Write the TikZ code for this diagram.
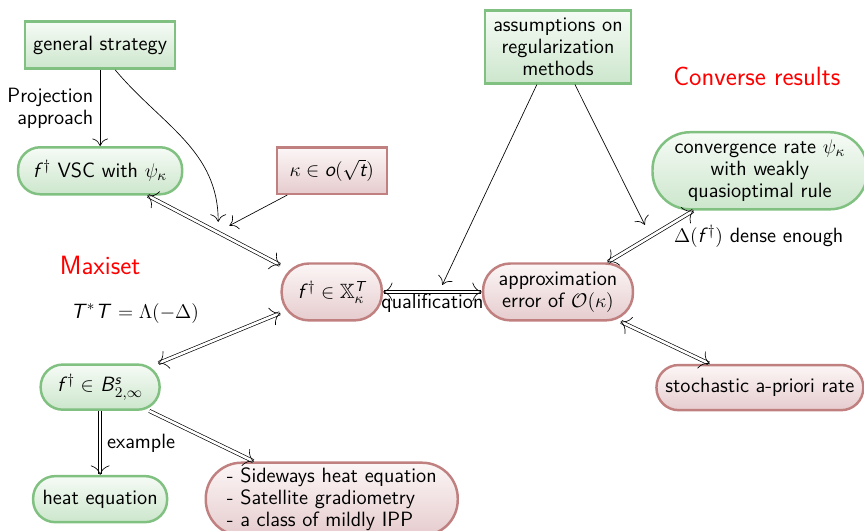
\documentclass[tikz,border=0pt,12pt]{standalone}
\usepackage{amsmath}
\usepackage{amssymb}
\usepackage{tikz}
\usetikzlibrary{arrows.meta, positioning, calc}
\usepackage{xcolor}

\definecolor{grnline}{RGB}{128,192,128}
\definecolor{grntop}{RGB}{246,251,246}
\definecolor{grnbot}{RGB}{204,230,204}
\definecolor{redline}{RGB}{192,128,128}
\definecolor{redtop}{RGB}{252,246,246}
\definecolor{redbot}{RGB}{230,204,206}

\begin{document}
\begin{tikzpicture}[
    node distance=1.2cm,
    every node/.style={font=\sffamily\fontsize{12.5}{13.4}\selectfont},
    greenbox/.style={
        rectangle,
        draw=grnline,
        line width=1.5pt,
        top color=grntop,
        bottom color=grnbot,
        align=center,
        inner sep=2pt
    },
    greenpill/.style={
        greenbox,
        rounded corners=0.47cm
    },
    redbox/.style={
        rectangle,
        draw=redline,
        line width=1.5pt,
        top color=redtop,
        bottom color=redbot,
        align=center,
        inner sep=2pt
    },
    redpill/.style={
        redbox,
        rounded corners=0.47cm
    },
    heading/.style={
        text=red,
        font=\sffamily\fontsize{16}{19}\selectfont
    },
    arrow/.style={
        -{To[length=1.6mm]}
    },
    both/.style={
        double,
        double distance=1.6pt,
        {To[length=2mm, width=4mm]}-{To[length=2mm, width=4mm]}
    },
    onto/.style={
        double,
        double distance=1.6pt,
        -{To[length=2mm, width=4mm]}
    }
]
\useasboundingbox (0,0) rectangle (18.38,-11.28);

% Nodes
\node[greenbox, minimum width=3.19cm, minimum height=1.0cm] (gen) at (2.13,-0.96) {general strategy};

\node[greenpill, below=1.62cm of gen, minimum width=3.49cm, minimum height=1.0cm] (vsc) {\textit{f}$^\dagger$ VSC with $\psi_\kappa$};

\node[redbox, right=1.96cm of vsc, minimum width=2.34cm, minimum height=0.98cm] (kappa) {$\kappa\in\textit{o}(\sqrt{\textit{t}})$};

\node[redpill, below=1.43cm of kappa, minimum width=2.13cm, minimum height=1.21cm, rounded corners=0.58cm] (X) {\textit{f}$^\dagger\in\mathbb{X}_\kappa^{\textit{T}}$};

\node[redpill, right=2.1cm of X, minimum width=3.19cm, minimum height=1.21cm, rounded corners=0.58cm] (approx) {approximation\\error of $\mathcal{O}(\kappa)$};

\node[greenbox, above=3.78cm of approx, minimum width=3.1cm, minimum height=1.55cm] (assum) {assumptions on\\regularization\\methods};

\node[greenpill, right=5.6cm of kappa, minimum width=4.57cm, minimum height=1.64cm, rounded corners=0.8cm] (conv) {convergence rate $\psi_\kappa$\\with weakly\\quasioptimal rule};

\node[redpill, below=3.26cm of conv, minimum width=4.4cm, minimum height=0.96cm] (stoch) {stochastic a-priori rate};

\node[greenpill, below=3.57cm of vsc, minimum width=2.53cm, minimum height=0.96cm] (besov) {\textit{f}$^\dagger\in$ \textit{B}$^{\textit{s}}_{2,\infty}$};

\node[greenpill, below=1.36cm of besov, minimum width=2.85cm, minimum height=0.98cm] (heat) {heat equation};

\node[redpill, right=0.77cm of heat, minimum width=5.36cm, minimum height=1.55cm, rounded corners=0.76cm, align=left] (ipp) {- Sideways heat equation\\- Satellite gradiometry\\- a class of mildly IPP};

% Free labels
\node[heading] (maxi) at (2.13,-5.64) {Maxiset};
\node[heading] (converse) at (16.1,-1.62) {Converse results};
\node (optxt) at (2.87,-6.66) {\textit{T}$^*$\textit{T} $=\Lambda(-\Delta)$};

% Helper points
\coordinate (hitvsc) at ($(vsc)!0.53!(X)$);
\coordinate (hitqual) at ($(X.east)!0.6!(approx.west)$);
\coordinate (hitconv) at ($(approx)!0.43!(conv)$);

% Single arrows
\draw[arrow] (gen) -- node[left, align=right] {Projection\\approach} (vsc);
\draw[arrow] ([xshift=0.32cm]gen.south) to[out=-50, in=90] ([shift={(-0.1,0.28)}]hitvsc);
\draw[arrow] ([xshift=0.25cm]kappa.south west) -- ([shift={(0.14,0.2)}]hitvsc);
\draw[arrow] ([xshift=-0.45cm]assum.south) -- ([yshift=0.15cm]hitqual);
\draw[arrow] ([xshift=0.36cm]assum.south) -- ([yshift=0.32cm]hitconv);

% Double arrows
\draw[both] (vsc) -- (X);
\draw[both] (besov) -- (X);
\draw[both] (X) -- node[below, inner sep=1pt] {qualification} (approx);
\draw[both] (approx) -- node[pos=0.75, below right, inner sep=1pt] {$\Delta($\textit{f}$^\dagger)$ dense enough} (conv);
\draw[both] (approx) -- (stoch);
\draw[onto] (besov) -- node[right] {example} (heat);
\draw[onto] (besov) -- (ipp);

\end{tikzpicture}
\end{document}
